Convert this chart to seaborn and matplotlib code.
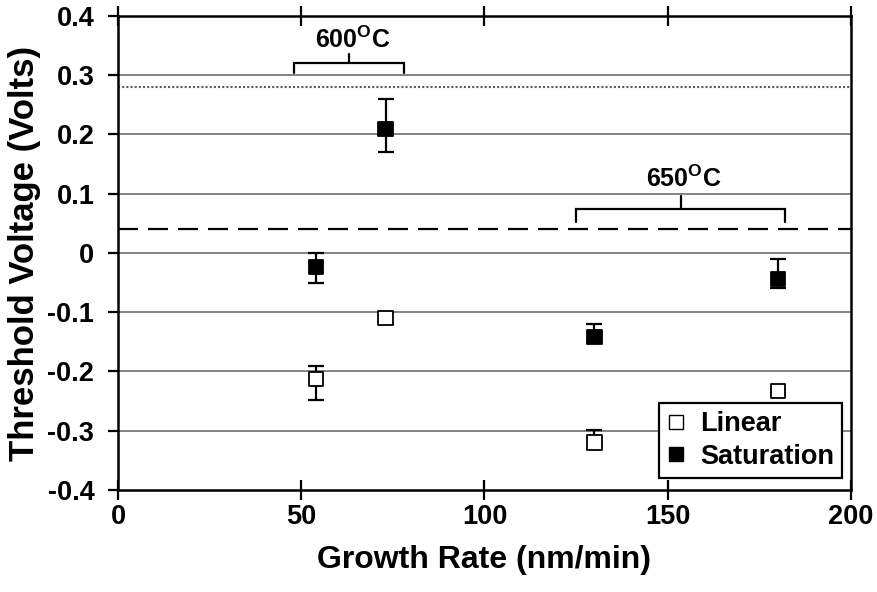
import numpy as np
import pandas as pd
import seaborn as sns
import matplotlib
matplotlib.use("Agg")
import matplotlib.pyplot as plt

# Threshold voltage measurements vs. growth rate
growth_rate = [54, 73, 130, 180]
linear_vt = [-0.213, -0.110, -0.320, -0.233]
linear_lo = [-0.248, -0.120, -0.330, -0.236]
linear_hi = [-0.190, -0.100, -0.299, -0.230]
sat_vt = [-0.024, 0.209, -0.142, -0.044]
sat_lo = [-0.051, 0.170, -0.150, -0.059]
sat_hi = [0.000, 0.260, -0.120, -0.010]

series_names = ["Linear", "Saturation"]
x_ticks = [0, 50, 100, 150, 200]
y_ticks = [-0.4, -0.3, -0.2, -0.1, 0, 0.1, 0.2, 0.3, 0.4]
y_tick_labels = ["-0.4", "-0.3", "-0.2", "-0.1", "0", "0.1", "0.2", "0.3", "0.4"]

# Reference levels and temperature groups
ref_solid = 0.28
ref_dashed = 0.04
groups = [("600", 48, 78, 0.303, 0.320, 0.335, 0.360),
          ("650", 125, 182, 0.052, 0.074, 0.096, 0.125)]

sns.set_theme(style="white")
plt.rcParams["font.family"] = ["Liberation Sans", "DejaVu Sans"]
plt.rcParams["font.weight"] = "bold"
plt.rcParams["text.color"] = "black"
plt.rcParams["axes.labelcolor"] = "black"
plt.rcParams["xtick.color"] = "black"
plt.rcParams["ytick.color"] = "black"
plt.rcParams["mathtext.fontset"] = "custom"
plt.rcParams["mathtext.rm"] = "Liberation Sans"
plt.rcParams["mathtext.bf"] = "Liberation Sans:bold"

df = pd.DataFrame({
    "Growth Rate": growth_rate * 2,
    "Vt": linear_vt + sat_vt,
    "lo": linear_lo + sat_lo,
    "hi": linear_hi + sat_hi,
    "Mode": [series_names[0]] * 4 + [series_names[1]] * 4,
})

fig = plt.figure(figsize=(8.77, 5.92), dpi=100)
ax = fig.add_axes([0.1345, 0.1723, 0.8359, 0.8007])

# horizontal grid
for yv in [0.3, 0.2, 0.1, 0, -0.1, -0.2, -0.3]:
    ax.axhline(yv, color="#7a7a7a", lw=1.3, zorder=1)
ax.axhline(ref_solid, color="#5a5a5a", lw=1.5, ls=(0, (1, 1)), zorder=1)
ax.axhline(ref_dashed, color="black", lw=1.6, ls=(0, (9, 4.5)), zorder=1)

# error bars
for _, r in df.iterrows():
    ax.errorbar(r["Growth Rate"], r["Vt"],
                yerr=[[r["Vt"] - r["lo"]], [r["hi"] - r["Vt"]]],
                fmt="none", ecolor="black", elinewidth=1.6, capsize=5.5,
                capthick=1.6, zorder=2)

sns.scatterplot(data=df, x="Growth Rate", y="Vt", hue="Mode", style="Mode",
                markers={"Linear": "s", "Saturation": "s"},
                palette={"Linear": "white", "Saturation": "black"},
                edgecolor="black", linewidth=1.3, s=105, ax=ax, zorder=3,
                legend=False)

# temperature group brackets
for label, x0, x1, yb, yt, yc, ytext in groups:
    xm = (x0 + x1) / 2
    ax.plot([x0, x0, x1, x1], [yb, yt, yt, yb], color="black", lw=1.6,
            solid_joinstyle="miter", zorder=2)
    ax.plot([xm, xm], [yt, yc], color="black", lw=1.6, zorder=2)
    ax.text(xm + 1, ytext, label + r"$^{\mathrm{O}}$C", ha="center", va="center",
            fontsize=18, fontweight="bold", color="black")

ax.set_xlim(0, 200)
ax.set_ylim(-0.4, 0.4)
ax.set_xticks(x_ticks)
ax.set_yticks(y_ticks)
ax.set_yticklabels(y_tick_labels)
ax.tick_params(axis="x", which="both", direction="inout", length=14, width=1.6,
               top=True, bottom=True, labelsize=19.5, pad=3, color="black",
               labelcolor="black")
ax.tick_params(axis="y", direction="out", length=7, width=1.6, left=True,
               right=False, labelsize=19.5, pad=10, color="black",
               labelcolor="black")
for lab in ax.get_xticklabels() + ax.get_yticklabels():
    lab.set_fontweight("bold")
for s in ax.spines.values():
    s.set_visible(True)
    s.set_color("black")
    s.set_linewidth(1.8)

ax.set_xlabel("Growth Rate (nm/min)", fontsize=23, fontweight="bold", labelpad=11,
              color="black")
ax.set_ylabel("Threshold Voltage (Volts)", fontsize=25, fontweight="bold", labelpad=5,
              color="black")

handles = [
    plt.Line2D([], [], ls="none", marker="s", markersize=9.5, markerfacecolor="white",
               markeredgecolor="black", markeredgewidth=1),
    plt.Line2D([], [], ls="none", marker="s", markersize=9.5, markerfacecolor="black",
               markeredgecolor="black", markeredgewidth=1),
]
leg = ax.legend(handles, series_names, loc="lower right", frameon=True,
                fancybox=False, edgecolor="black", framealpha=1,
                prop={"size": 19.5, "weight": "bold"}, handlelength=0.6,
                handletextpad=0.6, borderpad=0.3, labelspacing=0.25,
                borderaxespad=0, bbox_to_anchor=(0.9877, 0.0253))
leg.get_frame().set_linewidth(1.6)
leg.set_zorder(5)
for t in leg.get_texts():
    t.set_color("black")

fig.savefig("out.png", dpi=100)
